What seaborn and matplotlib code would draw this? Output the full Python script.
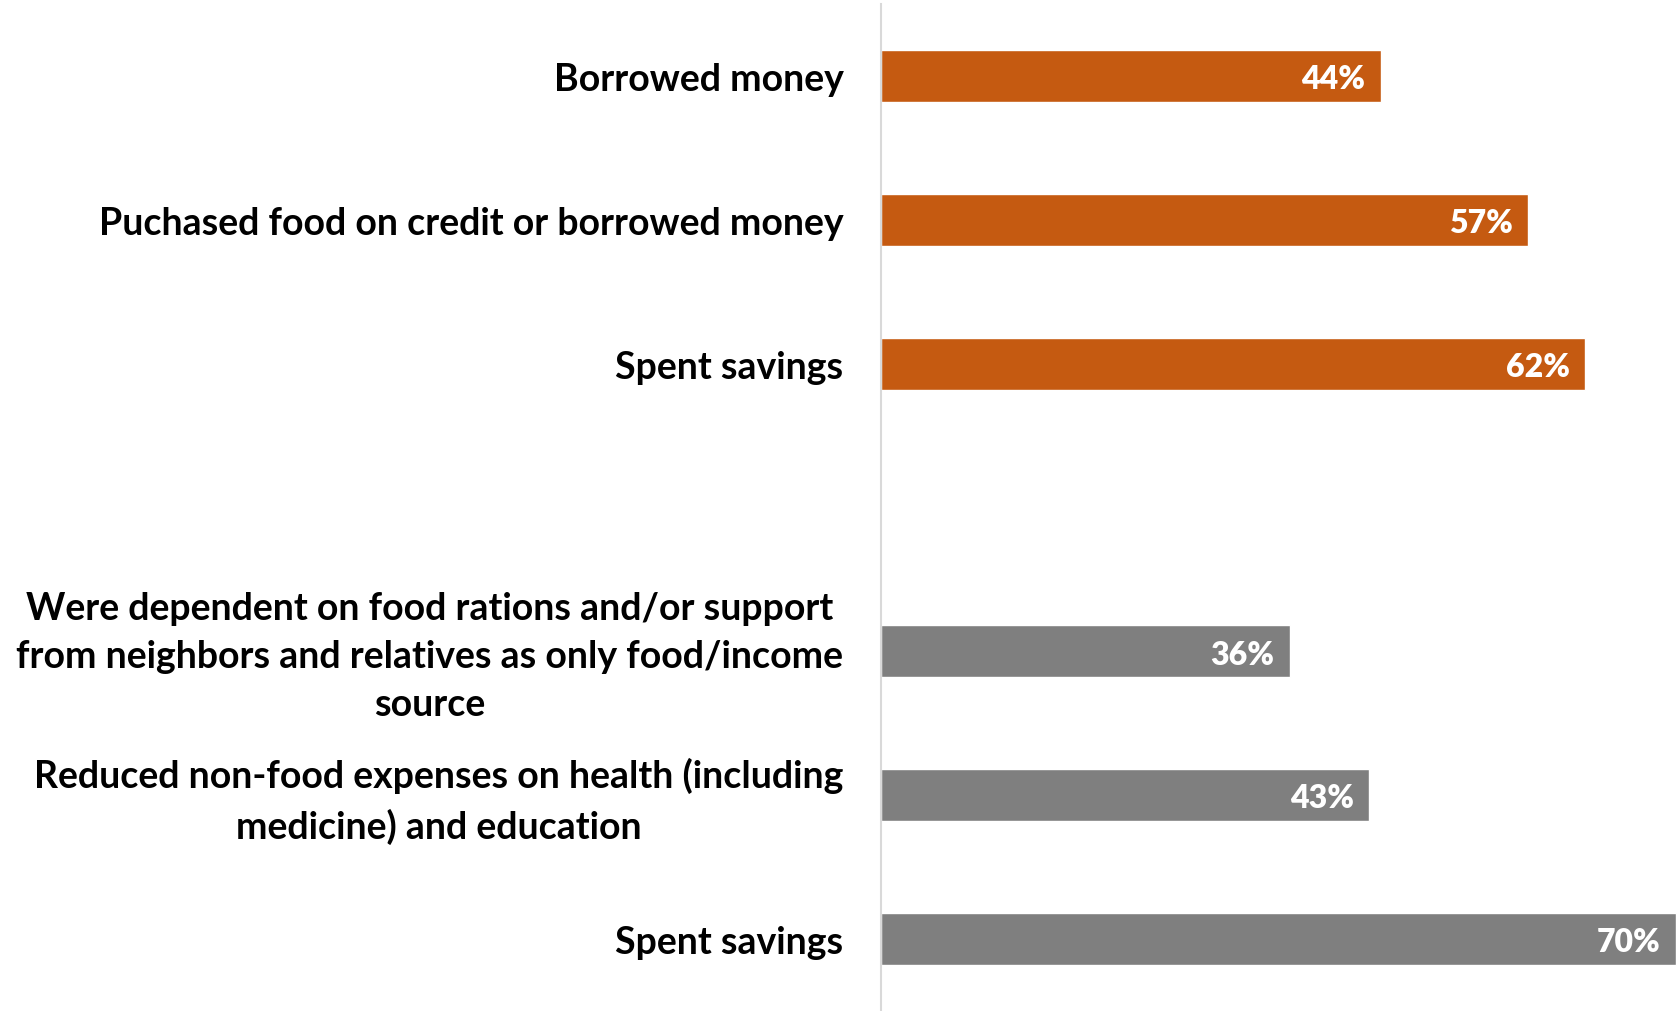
import seaborn as sns
import matplotlib.pyplot as plt
import matplotlib.transforms as mtransforms
import pandas as pd

# chart values, top to bottom
group = ["orange", "orange", "orange", "gray", "gray", "gray"]
labels = ["Borrowed money",
          "Puchased food on credit or borrowed money",
          "Spent savings",
          "Were dependent on food rations and/or support\nfrom neighbors and relatives as only food/income\nsource",
          "Reduced non-food expenses on health (including\nmedicine) and education",
          "Spent savings"]
values = [44, 57, 62, 36, 43, 70]

colors = {"orange": "#C55A11", "gray": "#7F7F7F"}

# unique keys so the two "Spent savings" rows stay apart, plus an empty slot between groups
keys = [f"{g}_{i}" for i, g in enumerate(group)]
order = keys[:3] + ["blank"] + keys[3:]
tick_labels = labels[:3] + [""] + labels[3:]

df = pd.DataFrame({"key": keys, "group": group, "value": values})

sns.set_style("white")
plt.rcParams["font.family"] = ["Lato", "DejaVu Sans"]
plt.rcParams["text.color"] = "black"
plt.rcParams["ytick.color"] = "black"

fig = plt.figure(figsize=(16.78, 10.12), dpi=100)
ax = fig.add_axes([881 / 1678, 0.0, 1 - 881 / 1678, 1 - 5 / 1012])

sns.barplot(data=df, y="key", x="value", hue="group", order=order,
            palette=colors, dodge=False, width=0.36, legend=False,
            orient="h", ax=ax, saturation=1)

# value labels inside the bar ends
for k, v in zip(keys, values):
    ax.annotate(f"{v}%", xy=(v, order.index(k)), xytext=(-11, -2),
                textcoords="offset points", ha="right", va="center",
                color="white", fontsize=23, fontweight="heavy")

ax.set_xlim(0, 70.2)
ax.set_ylim(len(order) - 0.5, -0.5)
ax.set_yticks(range(len(order)))
ax.set_yticklabels(tick_labels, fontsize=27, fontweight="bold",
                   multialignment="center", linespacing=1.5, color="black")
ax.tick_params(axis="y", length=0, pad=27)
ax.set_xticks([])
ax.set_xlabel("")
ax.set_ylabel("")

# nudge the wrapped labels up a little so they sit centred on their bars
for lab in ax.get_yticklabels():
    if "\n" in lab.get_text():
        lab.set_transform(lab.get_transform() +
                          mtransforms.ScaledTranslation(0, 4 / 72, fig.dpi_scale_trans))

for s in ["top", "right", "bottom"]:
    ax.spines[s].set_visible(False)
ax.spines["left"].set_color("#D9D9D9")
ax.spines["left"].set_linewidth(1.5)

fig.savefig("out.png", dpi=100)
